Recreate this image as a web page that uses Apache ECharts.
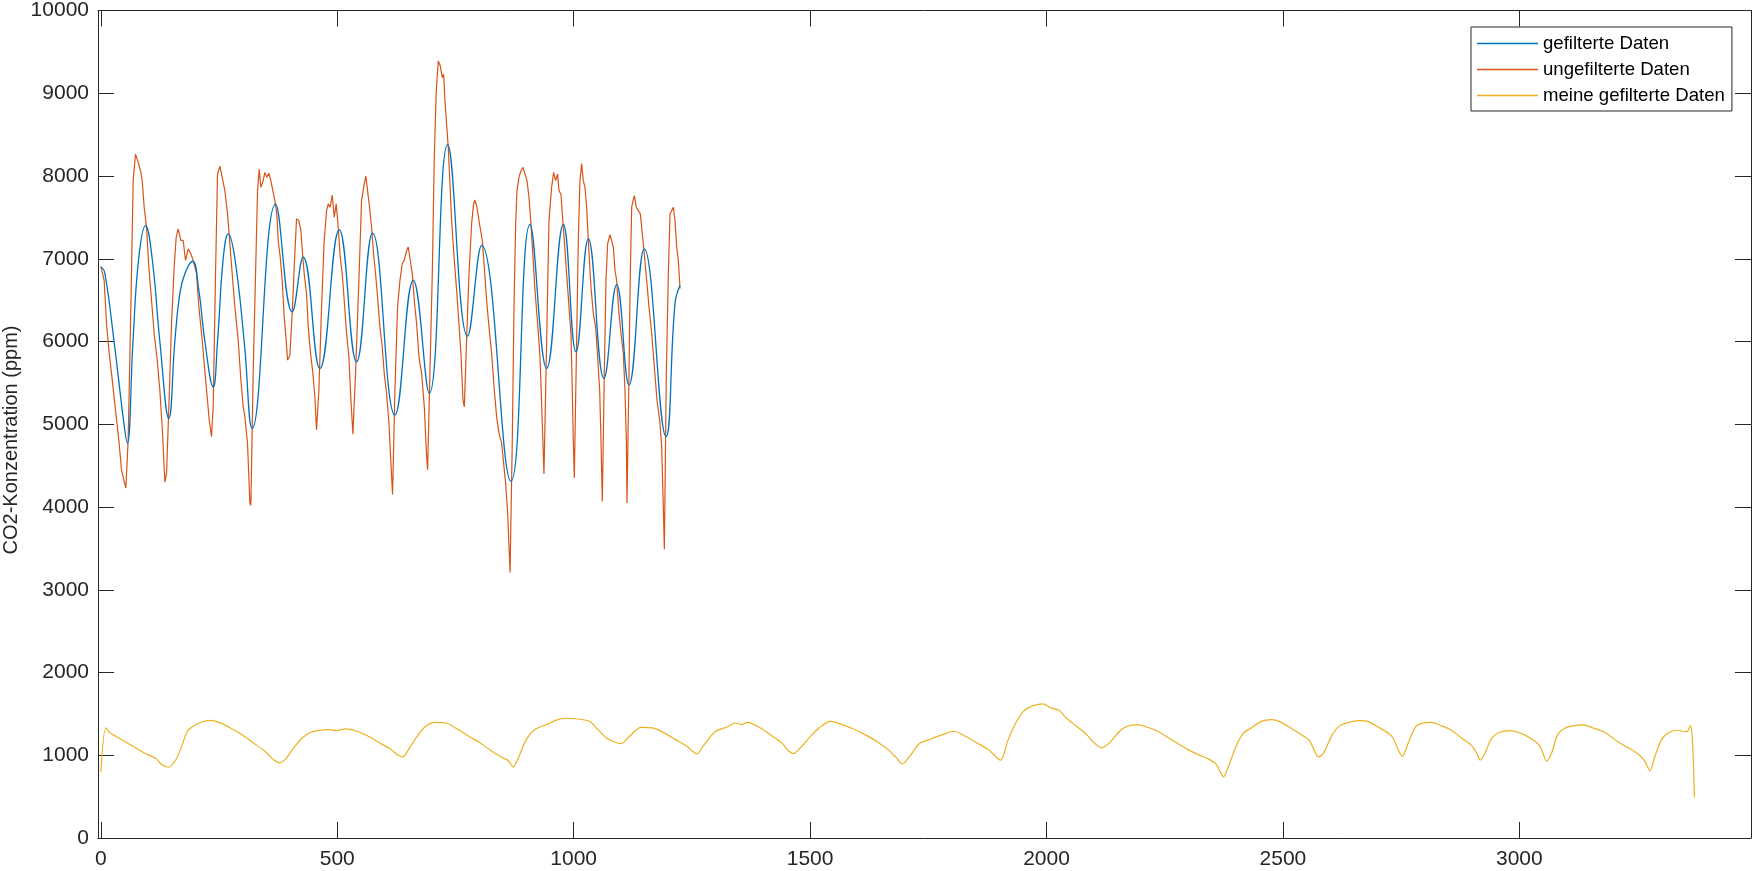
<!DOCTYPE html>
<html><head><meta charset="utf-8">
<script src="https://cdn.jsdelivr.net/npm/echarts@6/dist/echarts.min.js"></script>
<style>html,body{margin:0;padding:0;background:#fff}#c{width:1754px;height:871px}</style>
</head><body><div id="c"></div><script>
// ---- data (x = sample index, y = CO2 ppm) ----
const seriesNames = ['gefilterte Daten', 'ungefilterte Daten', 'meine gefilterte Daten'];
const xTickValues = [0, 500, 1000, 1500, 2000, 2500, 3000];
const xLimits = [-6, 3490];
const yLimits = [0, 10000];
const yTickStep = 1000;
const yLabel = 'CO2-Konzentration (ppm)';

const gefilterte = [[0,6900],[8,6840],[28,6000],[49,5000],[56,4770],[68,6000],[80,7000],[94.5,7400],[108.6,7000],[124.8,6000],[143.8,5070],[156.5,6000],[167,6578],[177.7,6819],[194,6970],[207.3,6618],[220,6000],[237.6,5450],[246.8,6000],[258.8,7000],[269.4,7300],[283.5,7000],[303.2,6000],[320,4950],[369.5,7660],[404.7,6357],[428,7020],[463.3,5675],[504.2,7350],[540.8,5755],[574.7,7309],[622,5112],[660.8,6739],[694.6,5374],[733.4,8378],[775.7,6064],[805.4,7161],[867.4,4309],[907.6,7414],[942.9,5675],[978.1,7414],[1004.9,5876],[1031,7241],[1064.1,5554],[1091,6687],[1117,5474],[1149.4,7120],[1195.3,4851],[1214.3,6458],[1225,6679]];

const ungefilterte = [[0,6908],[7,6739],[12,6217],[17,5896],[22.6,5615],[31,5173],[38,4811],[43.7,4450],[49.4,4309],[52.9,4229],[57.8,4811],[63.5,6418],[68.4,7944],[73.3,8265],[79,8165],[84.6,8044],[87.4,7944],[91.7,7622],[96.6,7382],[101.5,6900],[107.2,6498],[112.8,6096],[119.2,5775],[124.8,5414],[130.5,4892],[135.4,4300],[139,4410],[143.9,5213],[149.5,6217],[155.1,6900],[159.4,7261],[163.6,7361],[169.2,7221],[174.2,7221],[179.1,6980],[184.7,7120],[190.4,7060],[195.3,6980],[202.4,6819],[207.3,6418],[213,6096],[218.6,5735],[224.2,5374],[229.2,5052],[234.1,4851],[237.6,5213],[242.6,6819],[246.8,8024],[251.8,8120],[256.7,7984],[262.3,7823],[268,7542],[272.9,7181],[277.8,6819],[283.5,6418],[290.5,6016],[296.2,5534],[301.1,5213],[304.6,5092],[310.2,4771],[315.2,4048],[317.3,4020],[322.2,5615],[327.2,6819],[331.4,7823],[334.9,8080],[338.5,7863],[343.4,7944],[346.9,8044],[351.1,7984],[355.4,8032],[359.6,7944],[364.5,7803],[368.1,7703],[372.3,7542],[375.1,7221],[379.4,7020],[383.6,6739],[387.8,6297],[392,6016],[394.9,5775],[399.8,5835],[404.7,6337],[409,6900],[413.9,7482],[418.8,7462],[423.1,7341],[426.6,7060],[430.1,6819],[435.1,6578],[438.6,6177],[443.5,5856],[448.5,5615],[452.7,5333],[456.2,4930],[461.2,5414],[466.8,6418],[472.4,7221],[477.4,7582],[480.9,7663],[485.1,7623],[489.4,7770],[493.6,7502],[497.8,7663],[502,7381],[506.3,7020],[510.5,6819],[514.7,6498],[519.7,6096],[524.6,5815],[528.9,5293],[533.1,4880],[538.7,5615],[545.8,6739],[551.4,7703],[557.1,7904],[560.6,8000],[564.1,7823],[568.3,7622],[572.6,7381],[576.8,7060],[581,6819],[585.3,6538],[590.2,6177],[595.1,5936],[599.4,5615],[604.3,5374],[609.3,5012],[613.5,4530],[617,4150],[622,5414],[627.6,6418],[632.6,6739],[637.5,6940],[641.7,6980],[646.7,7100],[650.2,7141],[654.4,7161],[658.7,6819],[662.9,6498],[667.8,6217],[672.8,5815],[678.4,5615],[684.1,5213],[689,4610],[691.1,4450],[696,5615],[701,6819],[705.2,8225],[709.4,9028],[713.7,9390],[717.9,9329],[722.1,9189],[725,9229],[727.8,8908],[731.3,8627],[734.8,8345],[738.4,7904],[741.9,7462],[747.5,6980],[752.5,6618],[757.4,6217],[761.6,5856],[765.9,5293],[768.7,5210],[773.6,6016],[778.6,6819],[784.2,7422],[788.4,7663],[791.2,7710],[795.5,7622],[799.7,7462],[802.5,7462],[806.8,7221],[811,6900],[815.9,6498],[820.9,6177],[826.5,5856],[832.1,5414],[837.1,5092],[842,4892],[847.7,4771],[851.9,4530],[856.1,4289],[860.4,3928],[863.2,3526],[865.5,3210],[870.2,4811],[873.8,6418],[877.3,7422],[880.1,7823],[884.3,7984],[888.6,8064],[892.8,8104],[897,8124],[901.3,7944],[905.5,7743],[909.7,7422],[914,7020],[918.2,6618],[923.8,6217],[928.8,5815],[933.7,5012],[937.2,4400],[942.9,6016],[947.8,7462],[953.4,7863],[957.6,8044],[961.9,7944],[966.1,8024],[968.9,7823],[973.1,7783],[976,7542],[980.2,7221],[985.1,6819],[990.1,6418],[994.3,6096],[997.1,5414],[999.2,4811],[1001.4,4350],[1006.3,6016],[1009.8,7221],[1013.3,7944],[1016.9,8150],[1020.4,7944],[1023.9,7863],[1027.5,7622],[1031,7221],[1036.6,6659],[1041.6,6337],[1046.5,6177],[1050.7,5815],[1055,5414],[1057.8,4811],[1060.6,4068],[1064.8,5615],[1068.4,6739],[1071.9,7181],[1076.8,7290],[1080.3,7221],[1083.9,7141],[1087.4,6860],[1090.9,6739],[1095.9,6337],[1100.1,6096],[1105,5856],[1108.5,5414],[1111.4,4811],[1112.8,4048],[1117,5615],[1119.8,6819],[1122.7,7622],[1125.5,7703],[1128.3,7763],[1132.5,7622],[1136.8,7582],[1141,7542],[1145.2,7301],[1149.4,7060],[1154.4,6739],[1159.3,6418],[1165,6096],[1170.6,5695],[1176.2,5293],[1181.9,5052],[1186.1,4731],[1189.6,4008],[1191.8,3490],[1196,5615],[1200.2,6819],[1203.8,7542],[1207.3,7582],[1210.8,7622],[1214.3,7462],[1217.9,7141],[1221.4,6980],[1224.9,6639]];

const meineGefilterte = [[0,795],[10.7,1330],[19.2,1270],[31.3,1229],[49.6,1169],[67.8,1109],[92.1,1028],[116.4,960],[128.5,887],[143.1,855],[158.9,948],[171,1109],[183.1,1290],[195.3,1350],[213.5,1402],[231.7,1422],[249.9,1398],[274.2,1330],[298.5,1249],[322.8,1149],[347.1,1048],[365.3,948],[377.5,908],[389.6,948],[407.8,1089],[426,1209],[444.2,1278],[462.5,1302],[480.7,1310],[498.9,1298],[517.1,1318],[541.4,1290],[565.7,1229],[590,1149],[614.3,1068],[626.4,1008],[638.5,980],[650.7,1068],[668.9,1229],[687.1,1350],[705.3,1398],[729.6,1390],[753.9,1318],[778.2,1229],[802.5,1149],[826.8,1048],[851,968],[863.2,928],[871.7,859],[881.4,948],[899.6,1189],[917.8,1310],[942.1,1370],[966.4,1430],[984.6,1447],[1008.9,1438],[1033.2,1410],[1051.4,1310],[1069.7,1209],[1087.8,1157],[1100,1141],[1118.2,1229],[1142.5,1338],[1166.8,1330],[1191.1,1270],[1215.5,1189],[1239.7,1109],[1260.3,1016],[1276.1,1129],[1300.4,1290],[1324.7,1342],[1342.9,1390],[1355.1,1370],[1367.2,1398],[1391.5,1342],[1415.8,1249],[1440.1,1149],[1452.2,1068],[1464.3,1020],[1482.5,1109],[1500.8,1229],[1519,1330],[1543.3,1410],[1567.6,1370],[1591.9,1318],[1616.1,1249],[1640.4,1169],[1664.7,1068],[1682.9,968],[1695.1,895],[1713.3,1008],[1731.5,1141],[1755.8,1197],[1780.1,1249],[1804.4,1290],[1828.7,1229],[1853,1149],[1877.2,1068],[1892.2,988],[1902.9,940],[1919,1189],[1935,1390],[1951.1,1531],[1972.5,1600],[1991.8,1620],[2010,1571],[2026.1,1543],[2042.1,1451],[2063.6,1350],[2085,1249],[2101,1149],[2117.1,1089],[2133.2,1149],[2154.6,1290],[2170.7,1350],[2192.1,1370],[2213.5,1338],[2235,1290],[2256.4,1217],[2277.8,1141],[2299.2,1068],[2320.6,1008],[2342.1,956],[2358.1,895],[2366.7,807],[2374.2,739],[2384.9,867],[2401,1109],[2417,1270],[2433.1,1330],[2454.5,1410],[2476,1430],[2492,1410],[2513.4,1342],[2534.8,1262],[2556.3,1177],[2567,1048],[2575.6,980],[2586.3,1028],[2604.5,1249],[2620.5,1358],[2642,1402],[2663.4,1418],[2679.4,1410],[2700.9,1342],[2722.3,1270],[2733,1209],[2743.7,1068],[2752.3,988],[2765.1,1149],[2781.2,1350],[2797.3,1390],[2813.3,1398],[2834.8,1358],[2856.2,1302],[2877.6,1209],[2899,1117],[2909.8,1028],[2917.2,940],[2925.8,1008],[2941.9,1209],[2958,1278],[2979.4,1298],[3006.1,1258],[3027.6,1189],[3043.6,1109],[3051.1,1008],[3057.6,928],[3068.3,1028],[3081.1,1249],[3097.2,1330],[3118.6,1358],[3134.6,1366],[3156.1,1330],[3182.9,1270],[3209.6,1157],[3231.1,1089],[3252.5,1008],[3265.4,928],[3276.1,815],[3286.8,988],[3300.7,1189],[3314.6,1270],[3332.8,1302],[3354.3,1286],[3361.7,1358],[3366,1189],[3370.3,490]];

// ---- styling ----
const FONT = '"Liberation Sans", Arial, Helvetica, sans-serif';
const AX = '#262626';
const COLORS = ['#0072BD', '#D95319', '#EDB120'];
const plain = v => String(v);

function xAxisDef(pos, labels) {
  return {
    type: 'value', position: pos, min: xLimits[0], max: xLimits[1],
    axisLine: { show: true, onZero: false, lineStyle: { color: AX, width: 1 } },
    axisTick: { show: true, inside: true, length: 16, customValues: xTickValues, lineStyle: { color: AX, width: 1 } },
    axisLabel: { show: labels, customValues: xTickValues, formatter: plain, color: AX, fontSize: 21, fontFamily: FONT, margin: 11 },
    splitLine: { show: false }
  };
}
function yAxisDef(pos, labels) {
  return {
    type: 'value', position: pos, min: yLimits[0], max: yLimits[1], interval: yTickStep,
    axisLine: { show: true, onZero: false, lineStyle: { color: AX, width: 1 } },
    axisTick: { show: true, inside: true, length: 16, lineStyle: { color: AX, width: 1 } },
    axisLabel: { show: labels, formatter: plain, color: AX, fontSize: 21, fontFamily: FONT, margin: 9, showMinLabel: true, showMaxLabel: true },
    splitLine: { show: false }
  };
}

const chart = echarts.init(document.getElementById('c'), null, { renderer: 'canvas' });
chart.setOption({
  animation: false,
  backgroundColor: '#ffffff',
  grid: { left: 98, right: 3, top: 10, bottom: 33, containLabel: false },
  xAxis: [xAxisDef('bottom', true), xAxisDef('top', false)],
  yAxis: [yAxisDef('left', true), yAxisDef('right', false)],
  legend: {
    orient: 'vertical', left: 1471, top: 27,
    padding: [7, 7, 6, 6], itemWidth: 61, itemHeight: 1.5, itemGap: 7,
    icon: 'rect',
    backgroundColor: '#ffffff', borderColor: AX, borderWidth: 1, borderRadius: 0,
    textStyle: { color: '#000', fontSize: 18.6, fontFamily: FONT, lineHeight: 18.6 },
    data: seriesNames
  },
  graphic: [{
    type: 'text', x: 11, y: 440, rotation: Math.PI / 2,
    style: { text: yLabel, fill: AX, fontSize: 20, fontFamily: FONT, align: 'center', verticalAlign: 'middle' }
  }],
  series: [
    { name: seriesNames[0], type: 'line', data: gefilterte, smooth: 0.45, symbol: 'none', showSymbol: false,
      lineStyle: { color: COLORS[0], width: 1.3 }, itemStyle: { color: COLORS[0] }, z: 3 },
    { name: seriesNames[1], type: 'line', data: ungefilterte, smooth: false, symbol: 'none', showSymbol: false,
      lineStyle: { color: COLORS[1], width: 1.2 }, itemStyle: { color: COLORS[1] }, z: 2 },
    { name: seriesNames[2], type: 'line', data: meineGefilterte, smooth: 0.3, symbol: 'none', showSymbol: false,
      lineStyle: { color: COLORS[2], width: 1.2 }, itemStyle: { color: COLORS[2] }, z: 4 }
  ]
});
</script></body></html>
